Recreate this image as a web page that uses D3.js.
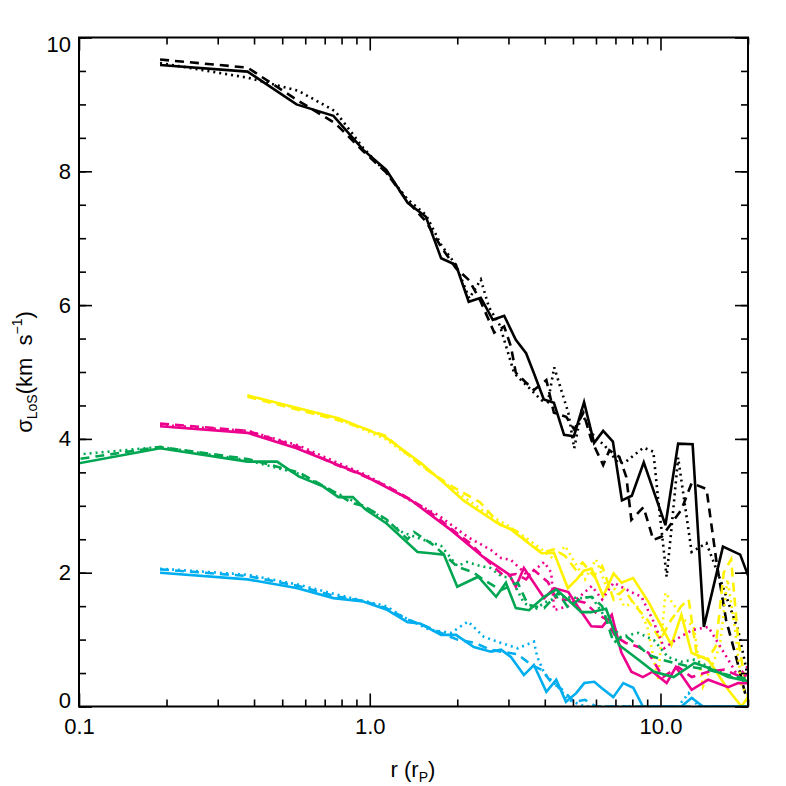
<!DOCTYPE html>
<html>
<head>
<meta charset="utf-8">
<script src="https://cdn.jsdelivr.net/npm/d3@7"></script>
<style>
  body { margin: 0; background: #fff; }
  svg { font-family: "Liberation Sans", Arial, sans-serif; }
</style>
</head>
<body>
<div id="chart"></div>
<script>
// radius (r_P) and sigma_LoS (km/s) pairs
var blackSolid = [[0.19,9.59],[0.38,9.49],[0.56,9.0],[0.75,8.83],[0.95,8.32],[1.14,8.02],[1.35,7.53],[1.56,7.32],[1.76,6.70],[1.98,6.60],[2.19,6.05],[2.41,6.11],[2.65,5.78],[2.9,5.84],[3.18,5.48],[3.45,5.28],[3.67,4.98],[3.97,4.59],[4.3,4.54],[4.66,4.06],[5.04,4.04],[5.46,4.55],[5.91,3.94],[6.35,4.12],[6.86,3.96],[7.37,3.08],[7.97,3.15],[8.76,3.65],[10.4,2.71],[11.5,3.93],[12.9,3.92],[14.1,1.19],[16.4,2.39],[18.8,2.27],[21.5,1.6]];
var blackDashed = [[0.19,9.67],[0.38,9.55],[0.57,9.05],[0.76,8.72],[0.95,8.3],[1.14,7.98],[1.35,7.55],[1.56,7.25],[1.76,6.87],[1.98,6.55],[2.2,6.37],[2.41,6.05],[2.68,5.59],[2.9,5.68],[3.06,5.38],[3.18,4.99],[3.45,4.84],[3.67,4.73],[4.05,4.88],[4.3,4.39],[4.74,4.33],[5.05,4.14],[5.43,4.39],[5.79,3.98],[6.35,3.61],[6.67,3.83],[7.22,3.73],[7.63,3.43],[7.94,2.79],[8.74,2.98],[9.45,2.49],[10.1,2.54],[11.8,2.94],[12.8,3.34],[14.4,3.25],[15.6,2.15],[16.8,1.3],[18.3,0.7],[19.8,0.1],[21,0.0]];
var blackDotted = [[0.19,9.62],[0.38,9.40],[0.57,9.2],[0.76,8.9],[0.95,8.35],[1.14,7.98],[1.35,7.58],[1.56,7.35],[1.76,6.9],[1.98,6.6],[2.2,6.1],[2.41,6.38],[2.57,5.97],[2.8,5.7],[3.14,4.98],[3.5,4.78],[3.89,4.58],[4.1,4.55],[4.31,5.07],[4.82,4.39],[5.05,3.86],[5.34,4.39],[5.92,4.03],[6.4,3.91],[7.16,3.64],[7.5,3.64],[8.74,3.87],[9.45,3.81],[9.8,3.13],[10.5,1.94],[10.9,2.64],[11.5,3.72],[12.8,2.31],[14.4,2.44],[15.6,2.04],[16.2,1.85],[18.5,1.14],[20,0.44],[21,0.2]];

var yellowSolid = [[0.38,4.65],[0.78,4.31],[1.13,4.03],[1.5,3.64],[1.8,3.34],[2.1,3.08],[2.75,2.74],[3.05,2.65],[3.9,2.29],[4.3,2.3],[4.8,1.77],[5.15,1.9],[5.45,2.03],[5.8,2.06],[6.35,1.65],[6.9,1.99],[7.35,1.85],[8.05,1.92],[9.1,1.56],[10.9,0.92],[11.8,1.37],[12.8,0.8],[14.6,0.70],[17.1,0.25],[19,0.0],[20.4,0.2]];
var yellowDashed = [[0.38,4.63],[0.78,4.28],[1.13,4.05],[1.5,3.6],[1.9,3.3],[2.4,3.05],[2.8,2.72],[3.2,2.62],[3.5,2.45],[3.9,2.3],[4.3,2.35],[4.7,2.25],[5.1,2.05],[5.4,2.15],[5.9,1.95],[6.3,2.1],[6.9,1.6],[7.5,1.75],[8.2,1.5],[9.0,1.3],[10.0,1.0],[10.9,1.3],[11.8,1.5],[12.5,1.6],[13.3,0.8],[14.5,0.7],[15.5,0.9],[16.5,2.0],[17.5,2.2],[18.5,1.0],[19.5,0.4],[20.5,0.3]];
var yellowDotted = [[0.38,4.65],[0.78,4.30],[1.13,4.0],[1.5,3.62],[2.0,3.2],[2.6,2.85],[3.0,2.7],[3.5,2.5],[3.9,2.35],[4.3,2.2],[4.7,2.4],[5.0,2.2],[5.5,1.9],[6.0,2.2],[6.5,1.8],[7.0,1.75],[7.5,1.5],[8.2,1.55],[9.0,1.2],[9.8,0.4],[10.4,1.7],[11.2,1.5],[12.0,1.3],[13.0,1.2],[14.0,0.3],[15.0,0.6],[16.0,0.9],[17.0,1.9],[18.0,1.2],[19.0,0.3],[20.5,0.1]];

var magentaSolid = [[0.19,4.19],[0.38,4.09],[0.56,3.86],[0.81,3.58],[0.95,3.46],[1.38,3.09],[1.9,2.64],[2.45,2.24],[3.02,1.97],[3.18,1.79],[3.39,2.07],[3.98,1.62],[4.31,1.77],[4.82,1.71],[5.2,1.49],[5.78,1.2],[6.3,1.19],[6.8,1.37],[7.33,0.81],[7.94,0.52],[8.7,0.44],[9.4,0.52],[10.5,0.35],[11.3,0.59],[12.8,0.25],[14.6,0.40],[17.1,0.29],[18.5,0.35],[20.5,0.35]];
var magentaDashed = [[0.19,4.23],[0.38,4.12],[0.57,3.88],[0.76,3.62],[0.95,3.45],[1.14,3.3],[1.35,3.12],[1.56,2.95],[1.76,2.78],[1.98,2.6],[2.2,2.45],[2.41,2.28],[2.65,2.1],[2.9,1.95],[3.18,1.98],[3.45,1.9],[3.67,2.04],[4.1,1.86],[4.4,1.6],[5.05,1.59],[5.5,1.55],[6.0,1.4],[6.5,1.3],[7.0,1.05],[7.6,0.95],[8.4,0.89],[9.1,0.8],[10.2,0.44],[11.5,0.59],[12.8,0.44],[14.6,0.52],[16.6,0.55],[19,0.44],[20.5,0.5]];
var magentaDotted = [[0.19,4.21],[0.38,4.12],[0.57,3.9],[0.76,3.66],[0.95,3.48],[1.14,3.3],[1.35,3.1],[1.72,2.86],[2.18,2.53],[2.61,2.34],[2.83,2.22],[3.06,2.19],[3.5,1.95],[3.98,2.16],[4.21,2.0],[4.31,1.44],[4.8,1.5],[5.3,1.65],[5.8,1.8],[6.3,1.6],[6.9,1.85],[7.94,1.71],[8.6,1.64],[9.4,1.3],[10.3,0.87],[11.3,1.0],[12.8,1.14],[14.6,1.19],[17.1,0.7],[18.5,0.45],[20.5,0.65]];

var greenSolid = [[0.09,3.60],[0.19,3.86],[0.38,3.66],[0.48,3.66],[0.57,3.44],[0.69,3.29],[0.78,3.13],[0.875,3.13],[0.97,2.94],[1.14,2.74],[1.46,2.31],[1.62,2.29],[1.8,2.27],[2.0,1.79],[2.36,1.94],[2.72,1.64],[2.94,1.85],[3.18,1.47],[3.53,1.44],[3.98,1.64],[4.38,1.75],[4.82,1.59],[5.34,1.41],[5.78,1.41],[6.5,1.46],[7.2,0.92],[8.4,0.70],[9.5,0.52],[11.1,0.44],[13.1,0.65],[14.6,0.58],[17.1,0.44],[20.5,0.37]];
var greenDashed = [[0.09,3.67],[0.19,3.88],[0.38,3.7],[0.57,3.5],[0.76,3.2],[0.87,3.04],[0.95,3.0],[1.14,2.8],[1.35,2.5],[1.42,2.61],[1.66,2.41],[2.0,2.09],[2.26,2.01],[2.47,1.89],[2.83,1.74],[3.23,1.85],[3.5,1.52],[3.98,1.47],[4.45,1.70],[4.82,1.47],[5.3,1.62],[5.8,1.64],[6.3,1.5],[6.9,0.95],[7.5,1.07],[8.5,0.89],[9.1,0.77],[10.1,0.70],[11.2,0.65],[12.8,0.59],[14.6,0.55],[17.1,0.47],[20.5,0.4]];
var greenDotted = [[0.09,3.75],[0.19,3.88],[0.38,3.68],[0.57,3.48],[0.76,3.2],[0.95,3.0],[1.14,2.78],[1.3,2.6],[1.76,2.4],[2.0,2.1],[2.16,2.16],[2.4,2.1],[2.6,2.07],[2.83,1.95],[3.06,1.92],[3.39,1.55],[3.7,1.45],[3.98,1.55],[4.45,1.64],[5.34,1.62],[5.8,1.64],[6.3,1.4],[7.3,1.04],[8.4,1.1],[9.5,0.99],[10.6,0.74],[11.8,0.67],[13.1,0.7],[15.3,0.55],[17.6,0.44],[20.5,0.35]];

var cyanSolid = [[0.19,2.0],[0.38,1.9],[0.56,1.77],[0.75,1.62],[0.95,1.57],[1.14,1.45],[1.35,1.26],[1.49,1.24],[1.76,1.07],[1.98,1.07],[2.28,0.89],[2.61,0.82],[2.83,0.85],[3.06,0.74],[3.39,0.47],[3.67,0.62],[4.05,0.22],[4.38,0.40],[4.73,0.07],[5.13,0.2],[5.47,0.35],[5.92,0.37],[6.26,0.28],[6.88,0.14],[7.45,0.35],[8.06,0.28],[8.7,0.0],[11.8,0.0],[12.8,0.13],[14.0,0.0],[20.5,0.0]];
var cyanDashed = [[0.19,2.05],[0.38,1.95],[0.57,1.8],[0.76,1.65],[0.95,1.58],[1.14,1.47],[1.35,1.3],[1.56,1.2],[1.76,1.1],[2.0,1.0],[2.3,0.95],[2.6,0.85],[2.83,0.82],[3.23,0.78],[3.6,0.62],[3.9,0.55],[4.2,0.37],[4.6,0.25],[5.05,0.07],[5.5,0.1],[6.0,0.0],[20.5,0.0]];
var cyanDotted = [[0.19,2.06],[0.38,1.97],[0.57,1.82],[0.76,1.68],[0.95,1.58],[1.14,1.5],[1.29,1.35],[1.6,1.15],[1.9,1.1],[2.18,1.27],[2.47,1.04],[2.83,0.95],[3.23,0.87],[3.67,0.97],[3.77,0.74],[3.98,0.5],[4.45,0.29],[4.82,0.1],[5.5,0.0],[11.5,0.0],[12.5,0.2],[13.5,0.0],[20.5,0.0]];

var xMajor = [0.1, 1, 10];
var xMajorLabels = ['0.1', '1.0', '10.0'];
var xMinor = [0.2,0.3,0.4,0.5,0.6,0.7,0.8,0.9,2,3,4,5,6,7,8,9,20];
var yMajor = [0, 2, 4, 6, 8, 10];
var yMinor = d3.range(0, 10.01, 0.5);

var colors = {black: '#000000', yellow: '#fff200', magenta: '#ec008c', green: '#00a651', cyan: '#00aeef'};
var dashes = {solid: null, dashed: '9,6', dotted: '2,4'};

// draw order: black under the colours, dotted/dashed under solid
var series = [
    {c: 'black', s: 'dotted', d: blackDotted}, {c: 'black', s: 'dashed', d: blackDashed}, {c: 'black', s: 'solid', d: blackSolid},
    {c: 'yellow', s: 'dotted', d: yellowDotted}, {c: 'yellow', s: 'dashed', d: yellowDashed}, {c: 'yellow', s: 'solid', d: yellowSolid},
    {c: 'magenta', s: 'dotted', d: magentaDotted}, {c: 'magenta', s: 'dashed', d: magentaDashed}, {c: 'magenta', s: 'solid', d: magentaSolid},
    {c: 'green', s: 'dotted', d: greenDotted}, {c: 'green', s: 'dashed', d: greenDashed}, {c: 'green', s: 'solid', d: greenSolid},
    {c: 'cyan', s: 'dotted', d: cyanDotted}, {c: 'cyan', s: 'dashed', d: cyanDashed}, {c: 'cyan', s: 'solid', d: cyanSolid}
];

// plot box in pixels (window.top is reserved, so no bare "top")
var plotL = 79, plotR = 748, plotT = 37.5, plotB = 706.5;

var x = d3.scaleLog().domain([0.1, 20]).range([plotL, plotR]);
var y = d3.scaleLinear().domain([0, 10]).range([plotB, plotT]);

var svg = d3.select('#chart')
    .append('svg')
    .attr('width', 786)
    .attr('height', 786);

svg.append('clipPath')
    .attr('id', 'plot-clip')
    .append('rect')
    .attr('x', plotL).attr('y', plotT - 2)
    .attr('width', plotR - plotL).attr('height', plotB - plotT + 2);

var line = d3.line()
    .x(function(d){ return x(d[0]); })
    .y(function(d){ return y(d[1]); });

svg.append('g')
    .attr('clip-path', 'url(#plot-clip)')
    .selectAll('path')
    .data(series)
    .enter()
    .append('path')
    .attr('d', function(d){ return line(d.d); })
    .attr('fill', 'none')
    .attr('stroke', function(d){ return colors[d.c]; })
    .attr('stroke-width', 2.6)
    .attr('stroke-linejoin', 'miter')
    .attr('stroke-dasharray', function(d){ return dashes[d.s]; });

//Axes: ticks point inward on all four sides
function styleAxis(g){
    g.select('.domain').remove();
    g.selectAll('line').attr('stroke', '#000').attr('stroke-width', 1.6);
    g.selectAll('text').attr('fill', '#000').attr('font-size', 22)
        .attr('font-family', '"Liberation Sans", Arial, sans-serif');
}

svg.append('g').attr('transform', 'translate(0,' + plotB + ')')
    .call(d3.axisBottom(x).tickValues(xMajor).tickSize(-13).tickPadding(12)
        .tickFormat(function(d, i){ return xMajorLabels[i]; }))
    .call(styleAxis);
svg.append('g').attr('transform', 'translate(0,' + plotB + ')')
    .call(d3.axisBottom(x).tickValues(xMinor).tickSize(-7).tickFormat(''))
    .call(styleAxis);
svg.append('g').attr('transform', 'translate(0,' + plotT + ')')
    .call(d3.axisTop(x).tickValues(xMajor).tickSize(-13).tickFormat(''))
    .call(styleAxis);
svg.append('g').attr('transform', 'translate(0,' + plotT + ')')
    .call(d3.axisTop(x).tickValues(xMinor).tickSize(-7).tickFormat(''))
    .call(styleAxis);

svg.append('g').attr('transform', 'translate(' + plotL + ',0)')
    .call(d3.axisLeft(y).tickValues(yMajor).tickSize(-13).tickPadding(8)
        .tickFormat(d3.format('d')))
    .call(styleAxis)
    .selectAll('text')
    // end labels are kept inside the box, as in the original
    .attr('dy', function(d){ return d === 10 ? '0.65em' : d === 0 ? '0.05em' : '0.32em'; });
svg.append('g').attr('transform', 'translate(' + plotL + ',0)')
    .call(d3.axisLeft(y).tickValues(yMinor).tickSize(-7).tickFormat(''))
    .call(styleAxis);
svg.append('g').attr('transform', 'translate(' + plotR + ',0)')
    .call(d3.axisRight(y).tickValues(yMajor).tickSize(-13).tickFormat(''))
    .call(styleAxis);
svg.append('g').attr('transform', 'translate(' + plotR + ',0)')
    .call(d3.axisRight(y).tickValues(yMinor).tickSize(-7).tickFormat(''))
    .call(styleAxis);

//Frame
svg.append('rect')
    .attr('x', plotL).attr('y', plotT)
    .attr('width', plotR - plotL).attr('height', plotB - plotT)
    .attr('fill', 'none')
    .attr('stroke', '#000')
    .attr('stroke-width', 2);

//Axis titles
var xTitle = svg.append('text')
    .attr('x', 413).attr('y', 777)
    .attr('text-anchor', 'middle')
    .attr('font-size', 22);
xTitle.append('tspan').text('r (r');
xTitle.append('tspan').attr('font-size', 14).attr('dy', 5).text('P');
xTitle.append('tspan').attr('dy', -5).text(')');

var yTitle = svg.append('text')
    .attr('transform', 'translate(32,372) rotate(-90)')
    .attr('text-anchor', 'middle')
    .attr('font-size', 22);
yTitle.append('tspan').text('σ');
yTitle.append('tspan').attr('font-size', 14).attr('dy', 5).text('LoS');
yTitle.append('tspan').attr('dy', -5).text('(km\u00a0\u00a0s');
yTitle.append('tspan').attr('font-size', 14).attr('dy', -10).text('\u22121');
yTitle.append('tspan').attr('dy', 10).text(')');
</script>
</body>
</html>
